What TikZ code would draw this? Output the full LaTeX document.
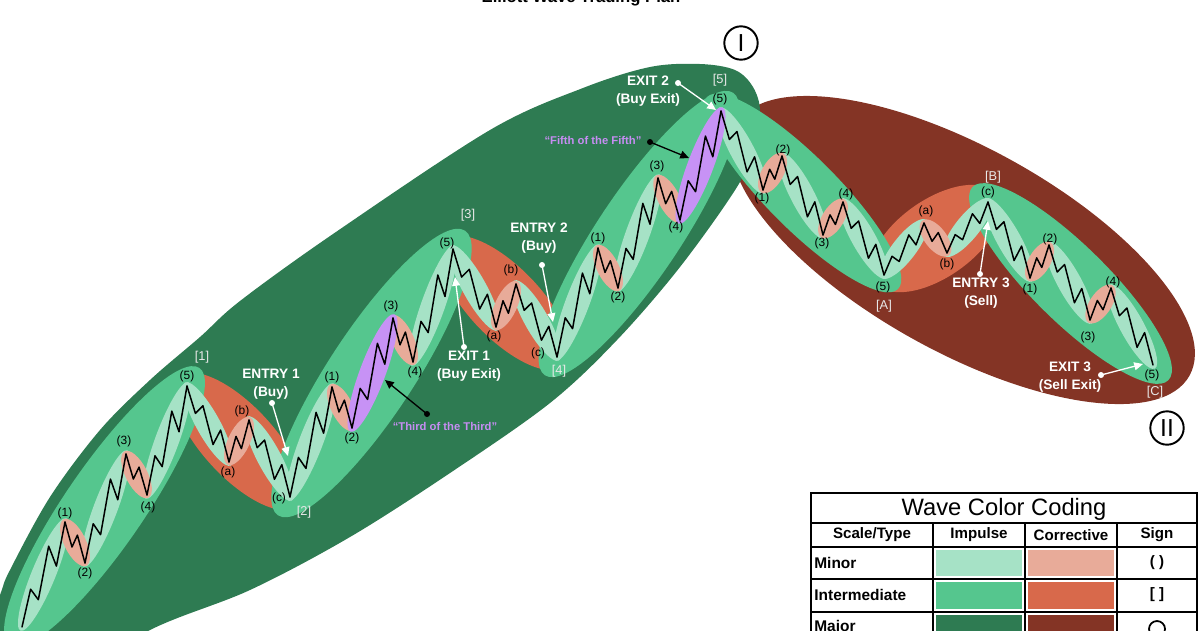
\documentclass[tikz,border=0pt]{standalone}
\usepackage{fontspec}
\setmainfont{Liberation Sans}
\usetikzlibrary{calc,shapes.geometric,arrows.meta}
\definecolor{majG}{HTML}{2E7B52}
\definecolor{intG}{HTML}{55C68E}
\definecolor{minG}{HTML}{A6E2C6}
\definecolor{minR}{HTML}{E8AB99}
\definecolor{intR}{HTML}{D8694B}
\definecolor{majR}{HTML}{843425}
\definecolor{purp}{HTML}{C792F5}
\definecolor{purpT}{HTML}{C68DF2}
\definecolor{lbl}{HTML}{E8E8E8}
% ellipse around a leg: from, to, extra length (px), width (px), colour
\newcommand\legell[5]{\path let \p1=(#1), \p2=(#2), \n1={atan2(\y2-\y1,\x2-\x1)}, \n2={veclen(\x2-\x1,\y2-\y1)} in node[ellipse, fill=#5, inner sep=0pt, outer sep=0pt, minimum width={\n2+2*#3*0.5669}, minimum height={#4*0.5669}, rotate=\n1] at ($(#1)!0.5!(#2)$) {};}
% five sub-wave leg
\newcommand\fivew[2]{\draw[wv] let \p1=(#1), \p2=(#2) in (\p1) -- ({\x1+0.20*(\x2-\x1)},{\y1+0.36*(\y2-\y1)}) -- ({\x1+0.38*(\x2-\x1)},{\y1+0.26*(\y2-\y1)}) -- ({\x1+0.62*(\x2-\x1)},{\y1+0.77*(\y2-\y1)}) -- ({\x1+0.80*(\x2-\x1)},{\y1+0.58*(\y2-\y1)}) -- (\p2);}
% three sub-wave leg
\newcommand\threew[2]{\draw[wv] let \p1=(#1), \p2=(#2) in (\p1) -- ({\x1+0.35*(\x2-\x1)},{\y1+0.61*(\y2-\y1)}) -- ({\x1+0.62*(\x2-\x1)},{\y1+0.32*(\y2-\y1)}) -- (\p2);}
\tikzset{
 wv/.style={draw=black, line width=0.85pt, line cap=round, line join=round},
 ml/.style={font=\fontsize{6.8}{8}\selectfont, inner sep=0pt, text=black},
 bl/.style={font=\fontsize{7.3}{8}\selectfont, inner sep=0pt, text=lbl},
 ann/.style={font=\bfseries\fontsize{7.8}{10.2}\selectfont, text=white, align=center, inner sep=0pt},
 qann/.style={font=\bfseries\fontsize{6.4}{8}\selectfont, text=purpT, inner sep=0pt},
 warr/.style={draw=white, line width=0.75pt, -{Triangle[length=5pt,width=4.5pt]}},
 barr/.style={draw=black, line width=0.75pt, -{Triangle[length=5pt,width=4.5pt]}},
 roman/.style={draw=black, circle, line width=1.1pt, minimum size=19pt, inner sep=0pt, font=\fontsize{14}{14}\selectfont},
 grid/.style={draw=black, line width=1.1pt},
 hdr/.style={font=\bfseries\fontsize{8.6}{10}\selectfont, inner sep=0pt},
 rowl/.style={font=\bfseries\fontsize{8.8}{10}\selectfont, inner sep=0pt, anchor=west},
}
\begin{document}
\begin{tikzpicture}[x=0.02cm, y=-0.02cm]
\useasboundingbox (0,0) rectangle (1200,630);
% ---------- wave points ----------
\coordinate (p0) at (22,627);
\coordinate (a1) at (65,522); \coordinate (a2) at (85,563); \coordinate (a3) at (126,454); \coordinate (a4) at (147,495); \coordinate (w1) at (187,386);
\coordinate (ba) at (229,462); \coordinate (bb) at (249,420); \coordinate (w2) at (290,497);
\coordinate (c1) at (332,387); \coordinate (c2) at (352,428); \coordinate (c3) at (393,318); \coordinate (c4) at (413,362); \coordinate (w3) at (453,249);
\coordinate (da) at (496,327); \coordinate (db) at (516,284); \coordinate (w4) at (557,357);
\coordinate (e1) at (598,248); \coordinate (e2) at (618,288); \coordinate (e3) at (658,178); \coordinate (e4) at (680,220); \coordinate (w5) at (721,111);
\coordinate (f1) at (763,190); \coordinate (f2) at (782,156); \coordinate (f3) at (823,235); \coordinate (f4) at (843,202); \coordinate (wa) at (884,275);
\coordinate (ga) at (924,223); \coordinate (gb) at (947,253); \coordinate (wb) at (988,202);
\coordinate (h1) at (1030,278); \coordinate (h2) at (1049,245); \coordinate (h3) at (1090,320); \coordinate (h4) at (1111,288); \coordinate (wc) at (1153,365);
% ---------- major waves ----------
\fill[majR, rotate around={-29:(963,250)}] (963,250) ellipse (259 and 102);
\fill[majG] plot[smooth cycle, tension=0.55] coordinates {(-30,680) (0,595) (10,570) (50,497) (100,430) (150,380) (200,337) (240,301) (333,234) (490,130) (583,88) (650,67) (700,64) (735,70) (753,87) (760,112) (752,150) (737,187) (680,267) (617,340) (550,403) (450,473) (350,537) (250,590) (150,630) (50,690)};
% ---------- intermediate waves ----------
\legell{w1}{w2}{12}{72}{intR}
\legell{w3}{w4}{12}{72}{intR}
\legell{wa}{wb}{12}{78}{intR}
\legell{p0}{w1}{22}{80}{intG}
\legell{w2}{w3}{22}{86}{intG}
\legell{w4}{w5}{22}{84}{intG}
\legell{w5}{wa}{20}{72}{intG}
\legell{wb}{wc}{22}{76}{intG}
% ---------- minor waves ----------
\foreach \s/\t in {p0/a1,a2/a3,a4/w1,w1/ba,bb/w2,w2/c1,c4/w3,w3/da,db/w4,w4/e1,e2/e3,w5/f1,f2/f3,f4/wa,wa/ga,gb/wb,wb/h1,h2/h3,h4/wc}
  {\legell{\s}{\t}{4}{24}{minG}}
\foreach \s/\t in {a1/a2,a3/a4,ba/bb,c1/c2,c3/c4,da/db,e1/e2,e3/e4,f1/f2,f3/f4,ga/gb,h1/h2,h3/h4}
  {\legell{\s}{\t}{3}{22}{minR}}
\legell{c2}{c3}{4}{26}{purp}
\legell{e4}{w5}{4}{26}{purp}
% ---------- price path ----------
\fivew{p0}{a1} \threew{a1}{a2} \fivew{a2}{a3} \threew{a3}{a4} \fivew{a4}{w1}
\fivew{w1}{ba} \threew{ba}{bb} \fivew{bb}{w2}
\fivew{w2}{c1} \threew{c1}{c2} \fivew{c2}{c3} \threew{c3}{c4} \fivew{c4}{w3}
\fivew{w3}{da} \threew{da}{db} \fivew{db}{w4}
\fivew{w4}{e1} \threew{e1}{e2} \fivew{e2}{e3} \threew{e3}{e4} \fivew{e4}{w5}
\fivew{w5}{f1} \threew{f1}{f2} \fivew{f2}{f3} \threew{f3}{f4} \fivew{f4}{wa}
\fivew{wa}{ga} \threew{ga}{gb} \fivew{gb}{wb}
\fivew{wb}{h1} \threew{h1}{h2} \fivew{h2}{h3} \threew{h3}{h4} \fivew{h4}{wc}
% ---------- minor labels ----------
\node[ml] at (65,513) {(1)}; \node[ml] at (85,573) {(2)}; \node[ml] at (124,441) {(3)}; \node[ml] at (148,507) {(4)}; \node[ml] at (187,376) {(5)};
\node[ml] at (228,472) {(a)}; \node[ml] at (242,411) {(b)}; \node[ml] at (279,498) {(c)};
\node[ml] at (332,377) {(1)}; \node[ml] at (352,438) {(2)}; \node[ml] at (391,306) {(3)}; \node[ml] at (415,372) {(4)}; \node[ml] at (447,243) {(5)};
\node[ml] at (494,336) {(a)}; \node[ml] at (511,270) {(b)}; \node[ml] at (538,353) {(c)};
\node[ml] at (598,238) {(1)}; \node[ml] at (618,297) {(2)}; \node[ml] at (657,166) {(3)}; \node[ml] at (676,227) {(4)}; \node[ml] at (720,99) {(5)};
\node[ml] at (762,198) {(1)}; \node[ml] at (783,150) {(2)}; \node[ml] at (822,243) {(3)}; \node[ml] at (846,194) {(4)}; \node[ml] at (883,287) {(5)};
\node[ml] at (926,211) {(a)}; \node[ml] at (947,264) {(b)}; \node[ml] at (988,192) {(c)};
\node[ml] at (1030,289) {(1)}; \node[ml] at (1050,239) {(2)}; \node[ml] at (1088,337) {(3)}; \node[ml] at (1113,282) {(4)}; \node[ml] at (1152,375) {(5)};
% ---------- intermediate labels ----------
\node[bl] at (202,357) {[1]}; \node[bl] at (304,512) {[2]}; \node[bl] at (468,215) {[3]}; \node[bl] at (559,371) {[4]};
\node[bl] at (720,80) {[5]}; \node[bl] at (884,306) {[A]}; \node[bl] at (993,177) {[B]}; \node[bl] at (1155,392) {[C]};
% ---------- major labels ----------
\node[roman] (mI) at (741,43) {I};
\node[roman] (mII) at (1167,428) {II};
% ---------- trade annotations ----------
\node[ann] (en1) at (271,384) {ENTRY 1\\(Buy)};
\coordinate (en1d) at (272,403); \coordinate (en1t) at (288,456);
\node[ann] (ex1) at (469,366) {EXIT 1\\(Buy Exit)};
\coordinate (ex1d) at (464,347); \coordinate (ex1t) at (455,277);
\node[ann] (en2) at (539,238) {ENTRY 2\\(Buy)};
\coordinate (en2d) at (542,265); \coordinate (en2t) at (553,322);
\node[ann] (ex2) at (648,91) {EXIT 2\\(Buy Exit)};
\coordinate (ex2d) at (678,83); \coordinate (ex2t) at (716,110);
\node[ann] (en3) at (981,293) {ENTRY 3\\(Sell)};
\coordinate (en3d) at (980,274); \coordinate (en3t) at (988,221);
\node[ann] (ex3) at (1070,377) {EXIT 3\\(Sell Exit)};
\coordinate (ex3d) at (1101,375); \coordinate (ex3t) at (1143,364);
\foreach \d/\t in {en1d/en1t,ex1d/ex1t,en2d/en2t,ex2d/ex2t,en3d/en3t,ex3d/ex3t}
  {\draw[warr] (\d) -- (\t); \fill[white] (\d) circle (3);}
\node[qann] (q3) at (445,426) {“Third of the Third”};
\coordinate (q3d) at (427,414); \coordinate (q3t) at (385,380);
\node[qann] (q5) at (593,140) {“Fifth of the Fifth”};
\coordinate (q5d) at (650,142); \coordinate (q5t) at (689,158);
\foreach \d/\t in {q3d/q3t,q5d/q5t}
  {\draw[barr] (\d) -- (\t); \fill[black] (\d) circle (3);}
% ---------- title ----------
\node[anchor=base, font=\bfseries\fontsize{9.5}{11}\selectfont, inner sep=0pt] (title) at (581,2) {Elliott Wave Trading Plan};
% ---------- legend ----------
\fill[white] (811,493) rectangle (1197,660);
\fill[minG] (936,550) rectangle (1022,576); \fill[minR] (1028,550) rectangle (1114,576);
\fill[intG] (936,582) rectangle (1022,609); \fill[intR] (1028,582) rectangle (1114,609);
\fill[majG] (936,615) rectangle (1022,650); \fill[majR] (1028,615) rectangle (1114,650);
\draw[grid] (811,493) rectangle (1197,660);
\foreach \yy in {523,547,579,612} {\draw[grid] (811,\yy) -- (1197,\yy);}
\foreach \xx in {933,1025,1117} {\draw[grid] (\xx,523) -- (\xx,660);}
\node[font=\fontsize{13.5}{15}\selectfont, inner sep=0pt] (lgT) at (1004,509) {Wave Color Coding};
\node[hdr] at (872,535) {Scale/Type}; \node[hdr] at (979,535) {Impulse};
\node[hdr] at (1071,535) {Corrective}; \node[hdr] at (1157,535) {Sign};
\node[rowl] at (814,563) {Minor}; \node[rowl] at (814,595) {Intermediate}; \node[rowl] at (814,627) {Major};
\node[hdr] at (1157,563) {( )}; \node[hdr] at (1157,595) {[ ]};
\draw[line width=1pt] (1157,629) circle (8);
\end{tikzpicture}
\end{document}
